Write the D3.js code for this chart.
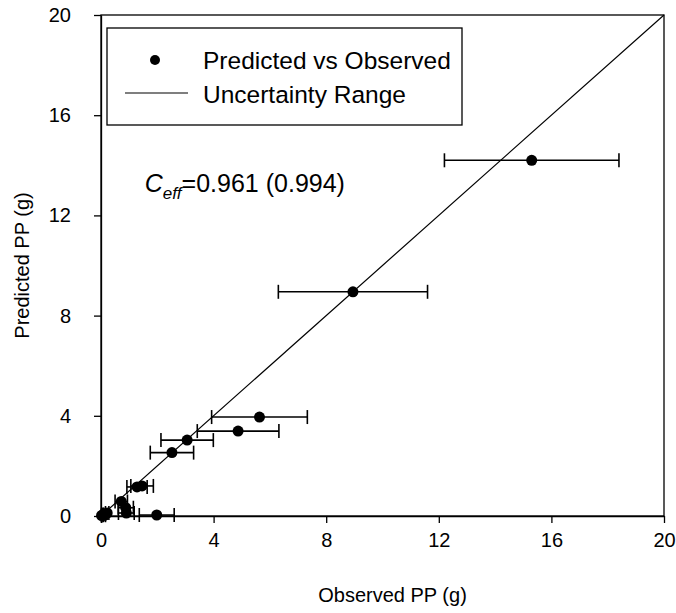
<!DOCTYPE html>
<html>
<head>
<meta charset="utf-8">
<script src="https://cdn.jsdelivr.net/npm/d3@7"></script>
<style>
  body { margin: 0; background: #fff; }
  svg { font-family: "Liberation Sans", Arial, sans-serif; }
</style>
</head>
<body>
<div id="chart"></div>
<script>
// Observed vs predicted PP (g), with horizontal uncertainty half-widths
const observed  = [15.3, 8.95, 5.63, 4.87, 3.06, 2.52, 1.46, 1.28, 0.72, 0.88, 0.90, 1.98, 0.22, 0.08, 0.02, 0.12];
const predicted = [14.2, 8.95, 3.95, 3.39, 3.03, 2.53, 1.20, 1.16, 0.58, 0.33, 0.12, 0.04, 0.12, 0.06, 0.02, 0.03];
const uncertainty = [3.1, 2.65, 1.7, 1.45, 0.93, 0.77, 0.40, 0.36, 0.22, 0.27, 0.28, 0.62, 0.06, 0.02, 0.01, 0.04];
const tickValues = [0, 4, 8, 12, 16, 20];
const legendLabels = ["Predicted vs Observed", "Uncertainty Range"];

const data = observed.map((d, i) => ({ obs: d, pred: predicted[i], err: uncertainty[i] }));

const viewW = 676;
const viewH = 613;
const margin = { top: 15, right: 12, bottom: 97, left: 101 };
const width = viewW - margin.left - margin.right;
const height = viewH - margin.top - margin.bottom;

const svg = d3.select("#chart")
    .append("svg")
    .attr("width", viewW)
    .attr("height", viewH);

const g = svg.append("g")
    .attr("transform", `translate(${margin.left},${margin.top})`);

const x = d3.scaleLinear().domain([0, 20]).range([0, width]);
const y = d3.scaleLinear().domain([0, 20]).range([height, 0]);

// frame
g.append("rect")
    .attr("width", width)
    .attr("height", height)
    .attr("fill", "none")
    .attr("stroke", "#000")
    .attr("stroke-width", 1.3);

// 1:1 line
g.append("line")
    .attr("x1", x(0)).attr("y1", y(0))
    .attr("x2", x(20)).attr("y2", y(20))
    .attr("stroke", "#000")
    .attr("stroke-width", 1.2);

// axes
const xAxis = g.append("g")
    .attr("transform", `translate(0,${height})`)
    .call(d3.axisBottom(x).tickValues(tickValues).tickSize(7).tickPadding(10).tickSizeOuter(0));
const yAxis = g.append("g")
    .call(d3.axisLeft(y).tickValues(tickValues).tickSize(7).tickPadding(23).tickSizeOuter(0));

[xAxis, yAxis].forEach(a => {
    a.select(".domain").attr("stroke-width", 1.3);
    a.selectAll(".tick line").attr("stroke-width", 1.3);
    a.selectAll("text").style("font-size", "20px").attr("fill", "#000");
});

// error bars
const capH = 7;
const bars = g.append("g").selectAll("g")
    .data(data)
    .join("g")
    .attr("stroke", "#000")
    .attr("stroke-width", 1.6);
bars.append("line")
    .attr("x1", d => x(d.obs - d.err))
    .attr("x2", d => x(d.obs + d.err))
    .attr("y1", d => y(d.pred))
    .attr("y2", d => y(d.pred));
bars.append("line")
    .attr("x1", d => x(d.obs - d.err))
    .attr("x2", d => x(d.obs - d.err))
    .attr("y1", d => y(d.pred) - capH)
    .attr("y2", d => y(d.pred) + capH);
bars.append("line")
    .attr("x1", d => x(d.obs + d.err))
    .attr("x2", d => x(d.obs + d.err))
    .attr("y1", d => y(d.pred) - capH)
    .attr("y2", d => y(d.pred) + capH);

// points
g.append("g").selectAll("circle")
    .data(data)
    .join("circle")
    .attr("cx", d => x(d.obs))
    .attr("cy", d => y(d.pred))
    .attr("r", 5.5)
    .attr("fill", "#000");

// legend
const legend = svg.append("g");
legend.append("rect")
    .attr("x", 107).attr("y", 28)
    .attr("width", 355).attr("height", 97)
    .attr("fill", "#fff")
    .attr("stroke", "#000")
    .attr("stroke-width", 1.3);
legend.append("circle")
    .attr("cx", 155).attr("cy", 60).attr("r", 5)
    .attr("fill", "#000");
legend.append("line")
    .attr("x1", 125).attr("x2", 188)
    .attr("y1", 93).attr("y2", 93)
    .attr("stroke", "#000").attr("stroke-width", 1.2);
legend.selectAll("text.lg")
    .data(legendLabels)
    .join("text")
    .attr("class", "lg")
    .attr("x", 203)
    .attr("y", (d, i) => 69 + i * 34)
    .style("font-size", "24.5px")
    .text(d => d);

// Ceff annotation
const ann = g.append("text")
    .attr("x", x(1.55))
    .attr("y", y(12.95))
    .style("font-size", "25px");
ann.append("tspan").style("font-style", "italic").text("C");
ann.append("tspan").attr("dy", 7).style("font-size", "17px").style("font-style", "italic").text("eff");
ann.append("tspan").attr("dy", -7).text("=0.961 (0.994)");

// axis labels
svg.append("text")
    .attr("x", margin.left + width / 2 + 10)
    .attr("y", 602)
    .attr("text-anchor", "middle")
    .style("font-size", "20px")
    .text("Observed PP (g)");
svg.append("text")
    .attr("transform", "rotate(-90)")
    .attr("x", -(margin.top + height / 2))
    .attr("y", 29)
    .attr("text-anchor", "middle")
    .style("font-size", "20px")
    .text("Predicted PP (g)");
</script>
</body>
</html>
